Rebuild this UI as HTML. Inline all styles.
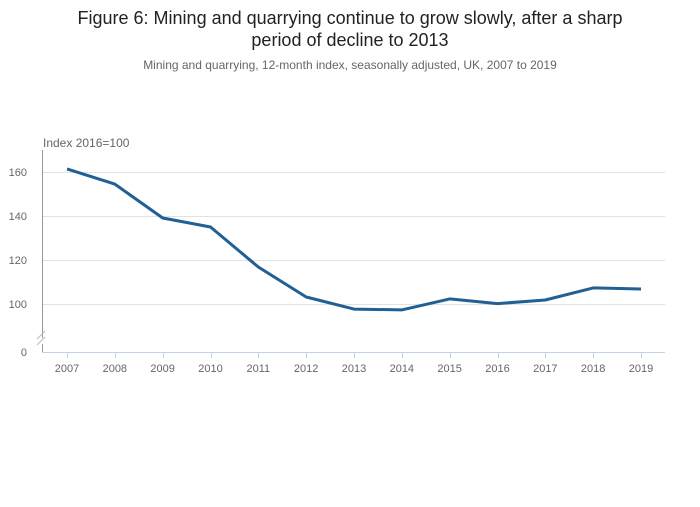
<!DOCTYPE html>
<html><head><meta charset="utf-8">
<style>
body{margin:0;background:#fff;font-family:"Liberation Sans",sans-serif;}
svg text{font-family:"Liberation Sans",sans-serif;}
</style></head>
<body>
<svg id="chart" width="700" height="502" viewBox="0 0 700 502" xmlns="http://www.w3.org/2000/svg">
<rect width="700" height="502" fill="#fff"/>
<text x="350" y="24" text-anchor="middle" font-size="18" fill="#222">Figure 6: Mining and quarrying continue to grow slowly, after a sharp</text>
<text x="350" y="46" text-anchor="middle" font-size="18" fill="#222">period of decline to 2013</text>
<text x="350" y="69" text-anchor="middle" font-size="12" fill="#666">Mining and quarrying, 12-month index, seasonally adjusted, UK, 2007 to 2019</text>
<text x="43" y="147" font-size="12" fill="#666">Index 2016=100</text>
<g id="grid"></g>
<line x1="42.5" y1="150" x2="42.5" y2="338" stroke="#999" stroke-width="1"/>
<line x1="42.5" y1="344" x2="42.5" y2="352" stroke="#999" stroke-width="1"/>
<g stroke="#bbb" stroke-width="1">
<line x1="37" y1="339" x2="45" y2="331"/><line x1="37" y1="345" x2="45" y2="337"/>
</g>
<line x1="42" y1="352.5" x2="665" y2="352.5" stroke="#c3d3ea" stroke-width="1"/>
<text x="27" y="356" text-anchor="end" font-size="11" fill="#666">0</text>
<g id="xticks"></g>
<path id="series" fill="none" stroke="#206095" stroke-width="3" stroke-linejoin="round"/>
</svg>
<script>
const years = ["2007","2008","2009","2010","2011","2012","2013","2014","2015","2016","2017","2018","2019"];
const values = [161.4,154.5,139.1,135.0,116.8,103.2,97.7,97.3,102.3,100.2,101.8,107.3,106.8];
const yTicks = [100,120,140,160];

const ns="http://www.w3.org/2000/svg";
function x(i){return 67+i*(641-67)/(years.length-1);}
function y(v){return 304-(v-100)*2.2;}
const grid=document.getElementById('grid');
yTicks.forEach(t=>{
  const l=document.createElementNS(ns,'line');
  l.setAttribute('x1',43);l.setAttribute('x2',665);
  l.setAttribute('y1',Math.round(y(t))+0.5);l.setAttribute('y2',Math.round(y(t))+0.5);
  l.setAttribute('stroke','#e2e2e2');
  
  
  grid.appendChild(l);
  const tx=document.createElementNS(ns,'text');
  tx.setAttribute('x',27);tx.setAttribute('y',y(t)+4);
  tx.setAttribute('text-anchor','end');tx.setAttribute('font-size','11');tx.setAttribute('fill','#666');
  tx.textContent=t;
  
  
  grid.appendChild(tx);
});
const xt=document.getElementById('xticks');
years.forEach((yr,i)=>{
  const l=document.createElementNS(ns,'line');
  l.setAttribute('x1',Math.round(x(i))+0.5);l.setAttribute('x2',Math.round(x(i))+0.5);
  l.setAttribute('y1',353);l.setAttribute('y2',358);l.setAttribute('stroke','#c3d3ea');
  
  
  xt.appendChild(l);
  const tx=document.createElementNS(ns,'text');
  tx.setAttribute('x',x(i));tx.setAttribute('y',372);
  tx.setAttribute('text-anchor','middle');tx.setAttribute('font-size','11');tx.setAttribute('fill','#666');
  tx.textContent=yr;
  
  
  xt.appendChild(tx);
});
document.getElementById('series').setAttribute('d',values.map((v,i)=>(i?'L':'M')+x(i).toFixed(1)+' '+y(v).toFixed(1)).join(' '));
</script>
</body></html>
